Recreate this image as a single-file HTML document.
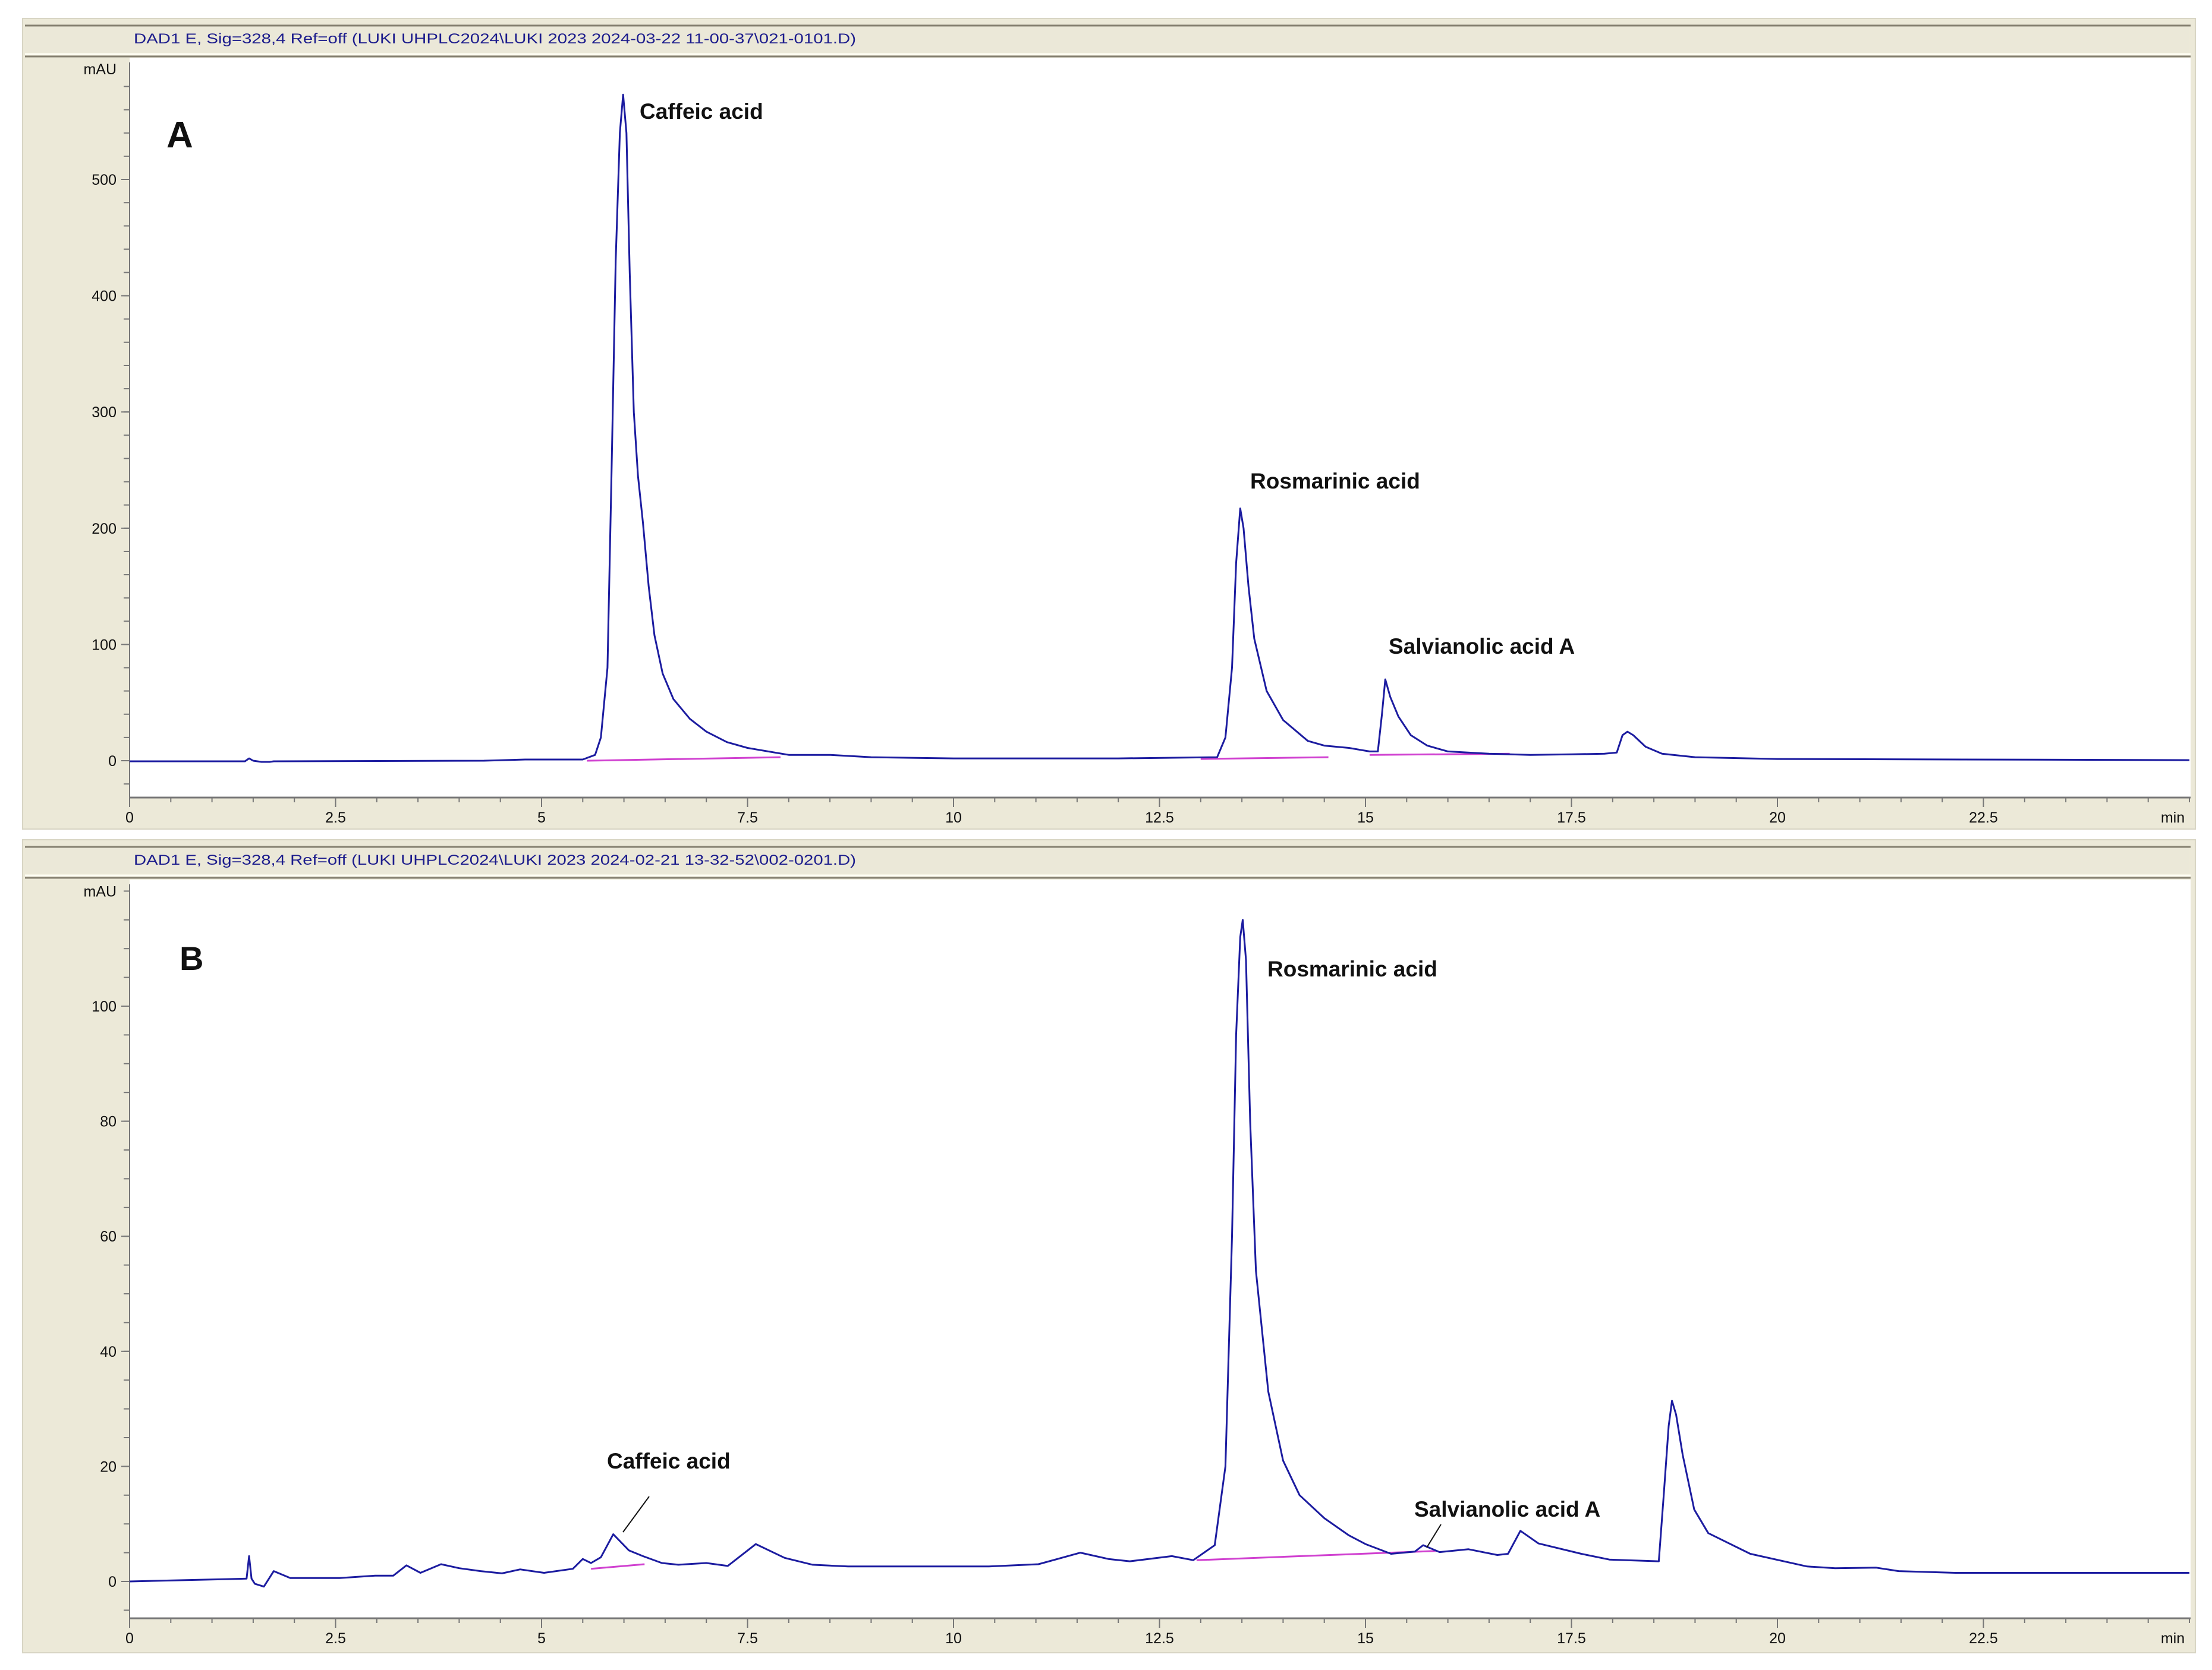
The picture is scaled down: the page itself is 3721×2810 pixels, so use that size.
<!DOCTYPE html>
<html><head><meta charset="utf-8"><style>
html,body{margin:0;padding:0;background:#fff;}
svg{display:block;}
text{font-family:"Liberation Sans",sans-serif;}
</style></head><body>
<svg id="chart" width="3721" height="2810" viewBox="0 0 3721 2810" xmlns="http://www.w3.org/2000/svg"></svg>
<script>
// ---- data (time in min, absorbance in mAU) ----
const xTicks = [0, 2.5, 5, 7.5, 10, 12.5, 15, 17.5, 20, 22.5];
const xTickLabels = ["0","2.5","5","7.5","10","12.5","15","17.5","20","22.5"];
const yTicksA = [0, 100, 200, 300, 400, 500];
const yTicksB = [0, 20, 40, 60, 80, 100];
const timesA = [0,1.4,1.45,1.5,1.6,1.7,1.75,4.3,4.8,5.5,5.65,5.72,5.8,5.85,5.9,5.95,5.99,6.03,6.07,6.12,6.17,6.23,6.3,6.37,6.47,6.6,6.8,7.0,7.25,7.5,8.0,8.5,9,10,12,13.2,13.3,13.38,13.43,13.48,13.52,13.58,13.65,13.8,14.0,14.3,14.5,14.8,15.05,15.15,15.2,15.24,15.3,15.4,15.55,15.75,16.0,16.5,17,17.5,17.9,18.05,18.12,18.18,18.25,18.4,18.6,19,20,25];
const valuesA = [-0.5,-0.5,2,0,-1,-1,-0.5,0,1,1,5,20,80,250,430,540,573,540,420,300,245,205,150,108,75,53,36,25,16,11,5,5,3,2,2,3,20,80,170,217,200,150,105,60,35,17,13,11,8,8,40,70,55,38,22,13,8,6,5,5.5,6,7,22,25,22,12,6,3,1.5,0.5];
const timesB = [0,1.18,1.42,1.45,1.48,1.52,1.63,1.75,1.95,2.55,2.98,3.2,3.36,3.53,3.78,4.0,4.26,4.52,4.74,5.03,5.38,5.5,5.6,5.72,5.87,6.06,6.23,6.46,6.66,7.0,7.26,7.6,7.95,8.29,8.72,10.43,11.03,11.54,11.88,12.14,12.65,12.91,13.17,13.3,13.38,13.43,13.48,13.51,13.55,13.6,13.67,13.82,14.0,14.2,14.5,14.8,15.0,15.31,15.6,15.7,15.9,16.25,16.6,16.73,16.88,17.1,17.62,17.96,18.56,18.62,18.68,18.72,18.77,18.85,18.99,19.16,19.67,20.36,20.7,21.2,21.47,22.16,25];
const valuesB = [0,0.4,0.5,4.4,0.5,-0.4,-0.9,1.8,0.6,0.6,1.0,1.0,2.8,1.5,3.0,2.3,1.8,1.4,2.1,1.5,2.2,3.9,3.2,4.2,8.2,5.4,4.4,3.2,2.9,3.2,2.7,6.5,4.1,2.9,2.6,2.6,3.0,5.0,3.9,3.5,4.4,3.7,6.3,20,60,95,112,115,108,80,54,33,21,15,11,8,6.5,4.8,5.2,6.3,5.1,5.6,4.6,4.8,8.8,6.6,4.8,3.8,3.5,15,27,31.4,29,22,12.5,8.4,4.8,2.6,2.3,2.4,1.8,1.5,1.5];
const baseTimesA = [[5.55,7.9],[13.0,14.55],[15.05,16.75]];
const baseValsA = [[0,3],[1.5,3],[5,6]];
const baseTimesB = [[5.6,6.25],[12.95,15.85]];
const baseValsB = [[2.2,3.0],[3.7,5.3]];

const NS="http://www.w3.org/2000/svg";
const svg=document.getElementById('chart');
function mk(tag,attrs,parent){const e=document.createElementNS(NS,tag);for(const k in attrs)e.setAttribute(k,attrs[k]);(parent||svg).appendChild(e);return e;}

const X0=218, PXMIN=138.6;
function xs(t){return X0+t*PXMIN;}

function panel(cfg){
  const g=mk('g',{});
  
  
  mk('rect',{x:38,y:cfg.top,width:3655,height:cfg.bottom-cfg.top,fill:'#ece9d8',stroke:'#d8d5c4','stroke-width':2},g);
  mk('rect',{x:42,y:cfg.top+12,width:3640,height:44,fill:'#ebe8d8'},g);
  mk('line',{x1:42,y1:cfg.top+12,x2:3685,y2:cfg.top+12,stroke:'#858070','stroke-width':3},g);
  mk('line',{x1:42,y1:cfg.top+60,x2:3685,y2:cfg.top+60,stroke:'#fffff4','stroke-width':3},g);
  mk('line',{x1:42,y1:cfg.top+64,x2:3685,y2:cfg.top+64,stroke:'#858070','stroke-width':3},g);
  const tt=mk('text',{x:225,y:cfg.top+42,'font-size':24,fill:'#1c1c8c',textLength:1215,lengthAdjust:'spacingAndGlyphs'},g);
  tt.textContent=cfg.title;
  
  
  const pa=mk('rect',{x:X0,y:cfg.plotTop,width:3685-X0,height:cfg.axisY-cfg.plotTop,fill:'#ffffff'},g);
  
  
  const ys=v=>cfg.zeroY-v*cfg.pxPer;
  const ya=mk('g',{},g);
  
  
  mk('line',{x1:X0,y1:cfg.plotTop+8,x2:X0,y2:cfg.axisY,stroke:'#777','stroke-width':2},ya);
  for(let v=cfg.yMin;v<=cfg.yMax+1e-6;v+=cfg.yMinor){
    mk('line',{x1:X0-10,y1:ys(v),x2:X0,y2:ys(v),stroke:'#777','stroke-width':2},ya);
  }
  cfg.yTicks.forEach(v=>{
    mk('line',{x1:X0-14,y1:ys(v),x2:X0,y2:ys(v),stroke:'#777','stroke-width':2},ya);
    const t=mk('text',{x:X0-22,y:ys(v)+9,'font-size':25,'text-anchor':'end',fill:'#111'},ya);
    t.textContent=String(v);
    
    
  });
  const mau=mk('text',{x:X0-22,y:ys(cfg.yMax)+9,'font-size':25,'text-anchor':'end',fill:'#111'},ya);
  mau.textContent='mAU';
  
  
  const xa=mk('g',{},g);
  
  
  mk('line',{x1:X0,y1:cfg.axisY,x2:3685,y2:cfg.axisY,stroke:'#777','stroke-width':3},xa);
  for(let t=0;t<=25.01;t+=0.5){
    mk('line',{x1:xs(t),y1:cfg.axisY,x2:xs(t),y2:cfg.axisY+8,stroke:'#777','stroke-width':2},xa);
  }
  xTicks.forEach((t,i)=>{
    mk('line',{x1:xs(t),y1:cfg.axisY,x2:xs(t),y2:cfg.axisY+16,stroke:'#777','stroke-width':2},xa);
    const l=mk('text',{x:xs(t),y:cfg.axisY+42,'font-size':25,'text-anchor':'middle',fill:'#111'},xa);
    l.textContent=xTickLabels[i];
    
    
  });
  const mn=mk('text',{x:3655,y:cfg.axisY+42,'font-size':25,'text-anchor':'middle',fill:'#111'},xa);
  mn.textContent='min';
  
  
  cfg.bt.forEach((bt,i)=>{
    const b=mk('line',{x1:xs(bt[0]),y1:ys(cfg.bv[i][0]),x2:xs(bt[1]),y2:ys(cfg.bv[i][1]),stroke:'#d040d0','stroke-width':3},g);
    
    
  });
  const pts=cfg.times.map((t,i)=>xs(t).toFixed(1)+','+ys(cfg.vals[i]).toFixed(1)).join(' ');
  const pl=mk('polyline',{points:pts,fill:'none',stroke:'#1c1ca0','stroke-width':3,'stroke-linejoin':'round'},g);
  
  
  cfg.labels.forEach(L=>{
    const t=mk('text',{x:L[0],y:L[1],'font-size':L[3]||37,'font-weight':'bold',fill:'#111'},g);
    t.textContent=L[2];
    
    
  });
  (cfg.leaders||[]).forEach(s=>{
    const ln=mk('line',{x1:s[0],y1:s[1],x2:s[2],y2:s[3],stroke:'#111','stroke-width':2},g);
    
    
  });
}

panel({name:'panel-a',top:31,bottom:1395,plotTop:97,axisY:1342,zeroY:1280,pxPer:1.956,
  yMin:-20,yMax:595,yMinor:20,yTicks:yTicksA,
  title:'DAD1 E, Sig=328,4 Ref=off (LUKI UHPLC2024\\LUKI 2023 2024-03-22 11-00-37\\021-0101.D)',
  times:timesA,vals:valuesA,bt:baseTimesA,bv:baseValsA,
  labels:[[280,248,'A',62,'panel-label-a'],[1076,200,'Caffeic acid',37,'label-caffeic-acid'],[2103,822,'Rosmarinic acid',37,'label-rosmarinic-acid'],[2336,1100,'Salvianolic acid A',37,'label-salvianolic-acid-a']]});

panel({name:'panel-b',top:1413,bottom:2781,plotTop:1480,axisY:2723,zeroY:2661,pxPer:9.68,
  yMin:-5,yMax:120,yMinor:5,yTicks:yTicksB,
  title:'DAD1 E, Sig=328,4 Ref=off (LUKI UHPLC2024\\LUKI 2023 2024-02-21 13-32-52\\002-0201.D)',
  times:timesB,vals:valuesB,bt:baseTimesB,bv:baseValsB,
  labels:[[302,1632,'B',56,'panel-label-b'],[2132,1643,'Rosmarinic acid',37,'label-rosmarinic-acid'],[1021,2471,'Caffeic acid',37,'label-caffeic-acid'],[2379,2552,'Salvianolic acid A',37,'label-salvianolic-acid-a']],
  leaders:[[1092,2518,1048,2578],[2424,2565,2400,2604]]});
</script>
</body></html>
